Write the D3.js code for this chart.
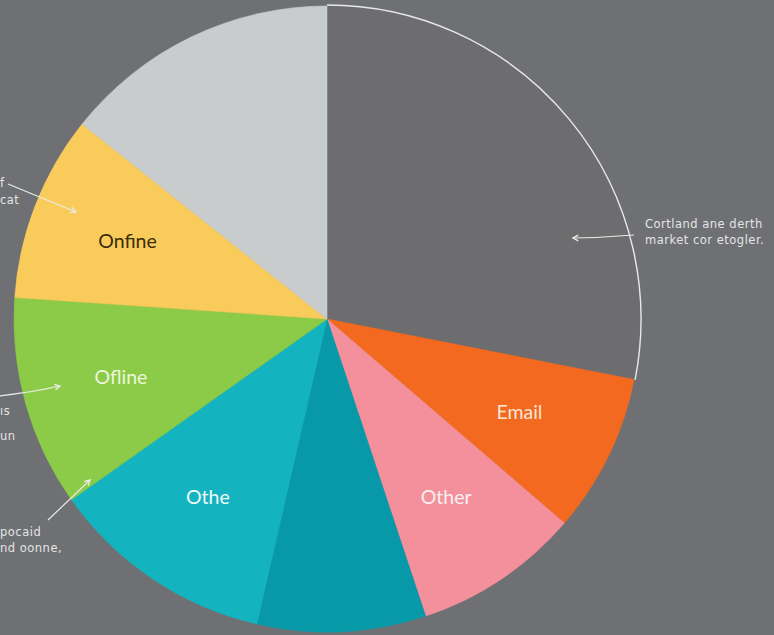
<!DOCTYPE html>
<html>
<head>
<meta charset="utf-8">
<script src="https://cdn.jsdelivr.net/npm/d3@7"></script>
<style>
  html, body { margin: 0; padding: 0; background: #6f7073; overflow: hidden; }
  svg { display: block; }
</style>
</head>
<body>
<div id="chart"></div>
<script>
// slices, clockwise from 12 o'clock
const categories = ['Market', 'Email', 'Other', 'Referral', 'Othe', 'Ofline', 'Onfine', 'Direct'];
const values = [28.1, 8.2, 8.6, 8.7, 11.6, 10.9, 9.6, 14.3];
const sliceLabels = ['', 'Email', 'Other', '', 'Othe', 'Ofline', 'Onfine', ''];
const sliceColors = ['#6d6d70', '#f3691f', '#f4909b', '#0899a9', '#13b4bf', '#8bcb47', '#f9cb5a', '#c9cccd'];
const labelColors = ['#fff', '#fbe6d8', '#f6f0f0', '#fff', '#f2fbfb', '#eef6dc', '#3a2c0c', '#fff'];

// side notes (only the visible parts of the left ones)
const noteRight = ['Cortland ane derth', 'market cor etogler.'];
const noteTopLeft = ['f', 'cat'];
const noteMidLeft = ['ıs', 'un'];
const noteBottomLeft = ['pocaid', 'nd oonne,'];

const width = 774, height = 635;
const cx = 327, cy = 319, radius = 313;

const svg = d3.select('#chart')
    .append('svg')
    .attr('width', width)
    .attr('height', height);

svg.append('rect')
    .attr('width', width)
    .attr('height', height)
    .attr('fill', '#6f7073');

const g = svg.append('g').attr('transform', `translate(${cx},${cy})`);

const pie = d3.pie().sort(null).value(d => d.value);
const data = categories.map((c, i) => ({ name: c, value: values[i], label: sliceLabels[i], color: sliceColors[i], textColor: labelColors[i] }));
const arcs = pie(data);

const arc = d3.arc().innerRadius(0).outerRadius(radius);
const labelArc = d3.arc().innerRadius(214).outerRadius(214);

g.selectAll('.slice')
    .data(arcs)
    .join('path')
    .attr('class', 'slice')
    .attr('d', arc)
    .attr('fill', d => d.data.color)
    .attr('stroke', d => d.data.color)
    .attr('stroke-width', 0.6);

// thin white rim on the first (background coloured) slice
const first = arcs[0];
const rim = d3.path();
rim.arc(0, 0, radius + 1, first.startAngle - Math.PI / 2, first.endAngle - Math.PI / 2);
g.append('path')
    .attr('d', rim.toString())
    .attr('fill', 'none')
    .attr('stroke', '#e9e9ea')
    .attr('stroke-width', 1.4);

g.selectAll('.slice-label')
    .data(arcs.filter(d => d.data.label))
    .join('text')
    .attr('class', 'slice-label')
    .attr('transform', d => `translate(${labelArc.centroid(d)})`)
    .attr('text-anchor', 'middle')
    .attr('dy', '0.35em')
    .attr('font-family', 'Lato, "Open Sans", sans-serif')
    .attr('font-size', 19.5)
    .attr('fill', d => d.data.textColor)
    .text(d => d.data.label);

// notes and arrows
const noteFont = '"DejaVu Sans", "Open Sans", sans-serif';

function note(lines, x, y0, step) {
    svg.append('text')
        .attr('font-family', noteFont)
        .attr('font-size', 11.5)
        .attr('letter-spacing', 0.5)
        .attr('fill', '#e4e5e6')
        .selectAll('tspan')
        .data(lines)
        .join('tspan')
        .attr('x', x)
        .attr('y', (d, i) => y0 + i * step)
        .text(d => d);
}

function arrow(x1, y1, x2, y2, bend) {
    const mx = (x1 + x2) / 2, my = (y1 + y2) / 2 + bend;
    svg.append('path')
        .attr('d', `M${x1},${y1} Q${mx},${my} ${x2},${y2}`)
        .attr('fill', 'none')
        .attr('stroke', '#e8ebe6')
        .attr('stroke-width', 1.2);
    const a = Math.atan2(y2 - my, x2 - mx);
    const s = 6;
    svg.append('path')
        .attr('d', `M${x2 - s * Math.cos(a - 0.5)},${y2 - s * Math.sin(a - 0.5)} L${x2},${y2} L${x2 - s * Math.cos(a + 0.5)},${y2 - s * Math.sin(a + 0.5)}`)
        .attr('fill', 'none')
        .attr('stroke', '#e8ebe6')
        .attr('stroke-width', 1.4);
}

note(noteRight, 645, 228, 16);
arrow(634, 235, 573, 238, 1);

note(noteTopLeft, 0, 187, 17);
arrow(8, 184, 76, 212, 0);

note(noteMidLeft, 0, 415, 25);
arrow(-2, 396, 60, 386, 2);

note(noteBottomLeft, 0, 536, 16);
arrow(48, 520, 90, 480, 0);
</script>
</body>
</html>
